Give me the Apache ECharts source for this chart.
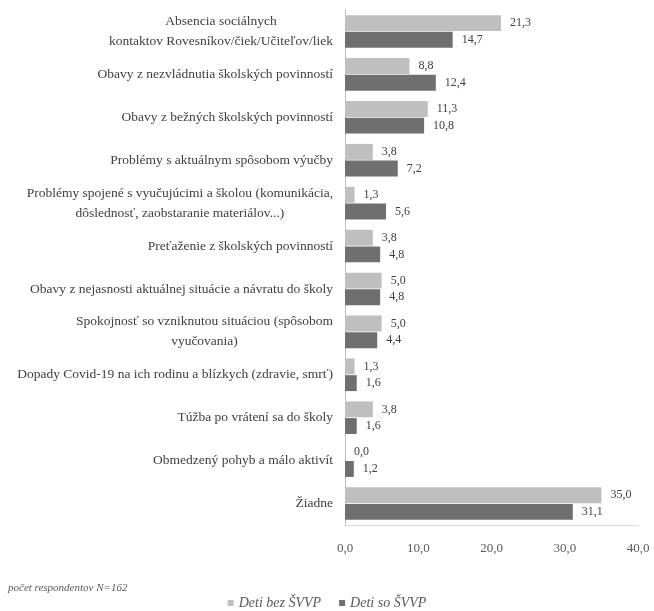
<!DOCTYPE html>
<html><head><meta charset="utf-8">
<script src="https://cdn.jsdelivr.net/npm/echarts@6/dist/echarts.min.js"></script>
<style>html,body{margin:0;padding:0;background:#fff}#c{width:654px;height:611px}</style>
</head><body><div id="c"></div>
<script>
var categories = [
  "Absencia sociálnych\nkontaktov Rovesníkov/čiek/Učiteľov/liek",
  "Obavy z nezvládnutia školských povinností",
  "Obavy z bežných školských povinností",
  "Problémy s aktuálnym spôsobom výučby",
  "Problémy spojené s vyučujúcimi a školou (komunikácia,\ndôslednosť, zaobstaranie materiálov...)",
  "Preťaženie z školských povinností",
  "Obavy z nejasnosti aktuálnej situácie a návratu do školy",
  "Spokojnosť so vzniknutou situáciou (spôsobom\nvyučovania)",
  "Dopady Covid-19 na ich rodinu a blízkych (zdravie, smrť)",
  "Túžba po vrátení sa do školy",
  "Obmedzený pohyb a málo aktivít",
  "Žiadne"
];
var seriesNames = ["Deti bez ŠVVP", "Deti so ŠVVP"];
var bezSVVP = [21.3, 8.8, 11.3, 3.8, 1.3, 3.8, 5.0, 5.0, 1.3, 3.8, 0.0, 35.0];
var soSVVP  = [14.7, 12.4, 10.8, 7.2, 5.6, 4.8, 4.8, 4.4, 1.6, 1.6, 1.2, 31.1];
var xTicks = [0, 10, 20, 30, 40];
var footnote = "počet respondentov N=162";

var fmt = function (v) { return v.toFixed(1).replace('.', ','); };
var serif = "'Liberation Serif', 'DejaVu Serif', serif";
var chart = echarts.init(document.getElementById('c'), null, {renderer: 'canvas'});
chart.setOption({
  animation: false,
  backgroundColor: '#ffffff',
  grid: {left: 345, right: 16, top: 10, bottom: 86, containLabel: false},
  xAxis: {
    type: 'value', min: xTicks[0], max: xTicks[xTicks.length - 1], interval: 10,
    axisLine: {show: true, lineStyle: {color: '#d9d9d9', width: 1}},
    axisTick: {show: false},
    splitLine: {show: false},
    axisLabel: {formatter: fmt, fontFamily: serif, fontSize: 13, color: '#595959', margin: 17}
  },
  yAxis: {
    type: 'category', data: categories, inverse: true,
    axisLine: {show: true, lineStyle: {color: '#bfbfbf', width: 1}},
    axisTick: {show: false},
    axisLabel: {
      margin: 12, fontFamily: serif, fontSize: 13.5, color: '#404040', lineHeight: 20,
      formatter: function (v) {
        return v.split('\n').map(function (l) { return '{c|' + l + '}'; }).join('\n');
      },
      rich: {c: {align: 'center', fontFamily: serif, fontSize: 13.5, color: '#404040', lineHeight: 20}}
    }
  },
  legend: {
    top: 591, left: 'center', itemWidth: 6, itemHeight: 6, itemGap: 18,
    icon: 'rect',
    textStyle: {fontFamily: serif, fontStyle: 'italic', fontSize: 14, color: '#595959'},
    data: seriesNames
  },
  graphic: [{
    type: 'text', left: 8, top: 583,
    style: {text: footnote, font: "italic 11px 'Liberation Serif', serif", fill: '#595959'}
  }],
  series: [
    {
      name: seriesNames[0], type: 'bar', data: bezSVVP,
      barCategoryGap: '24%', barGap: '5%',
      itemStyle: {color: '#bfbfbf'},
      label: {show: true, position: 'right', distance: 9, formatter: function (p) { return fmt(p.value); },
        fontFamily: serif, fontSize: 12, color: '#404040'}
    },
    {
      name: seriesNames[1], type: 'bar', data: soSVVP,
      barCategoryGap: '24%', barGap: '5%',
      itemStyle: {color: '#6f6f6f'},
      label: {show: true, position: 'right', distance: 9, formatter: function (p) { return fmt(p.value); },
        fontFamily: serif, fontSize: 12, color: '#404040'}
    }
  ]
});
</script></body></html>
